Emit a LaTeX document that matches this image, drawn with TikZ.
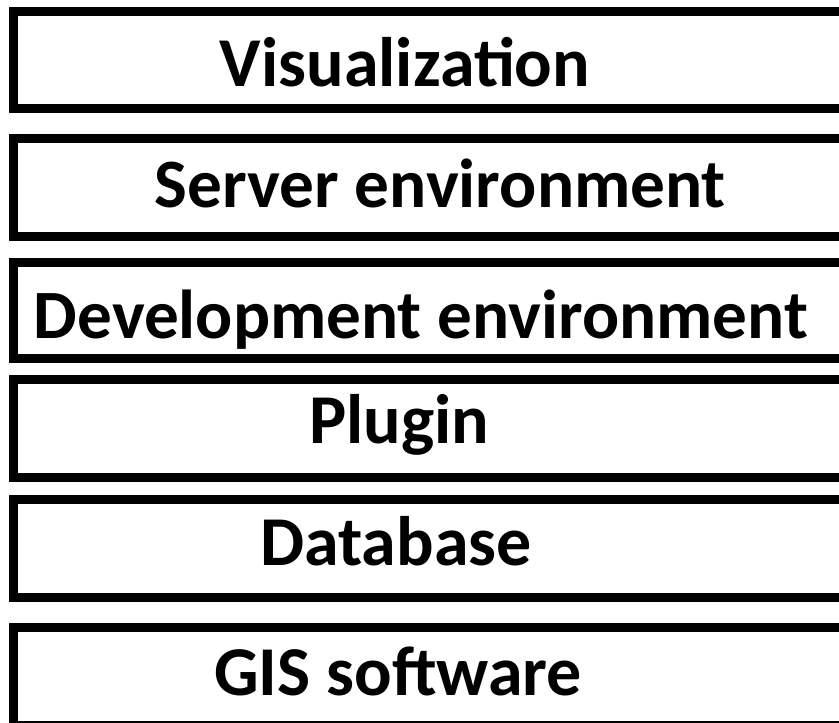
\documentclass[tikz,border=0pt]{standalone}
\usepackage{fontspec}
\setmainfont{Carlito}
\tikzset{
  layerbox/.style={draw=black, line width=9pt, fill=white},
  layertext/.style={font=\bfseries\fontsize{70}{84}\selectfont, anchor=base, inner sep=0pt}
}
\begin{document}
\begin{tikzpicture}[x=1pt,y=-1pt]
\useasboundingbox (0,0) rectangle (839,723);
\clip (0,0) rectangle (839,723);
\fill[white] (0,0) rectangle (839,723);
\draw[layerbox] (13,11.5) rectangle (870,108.5);
\draw[layerbox] (13,138.5) rectangle (870,236.5);
\draw[layerbox] (13,262.5) rectangle (870,358.5);
\draw[layerbox] (13,379) rectangle (870,477.5);
\draw[layerbox] (13,499.5) rectangle (870,597.5);
\draw[layerbox] (13,627.5) rectangle (870,725.5);
\node[layertext] (t1) at (405,86.7) {Visualization};
\node[layertext, font=\bfseries\fontsize{69.3}{84}\selectfont] (t2) at (440.5,207) {Server environment};
\node[layertext, font=\bfseries\fontsize{69.2}{84}\selectfont] (t3) at (421,338) {Development environment};
\node[layertext] (t4) at (399,443) {Plugin};
\node[layertext] (t5) at (396,565) {Database};
\node[layertext] (t6) at (398,695) {GIS software};
\end{tikzpicture}
\end{document}
